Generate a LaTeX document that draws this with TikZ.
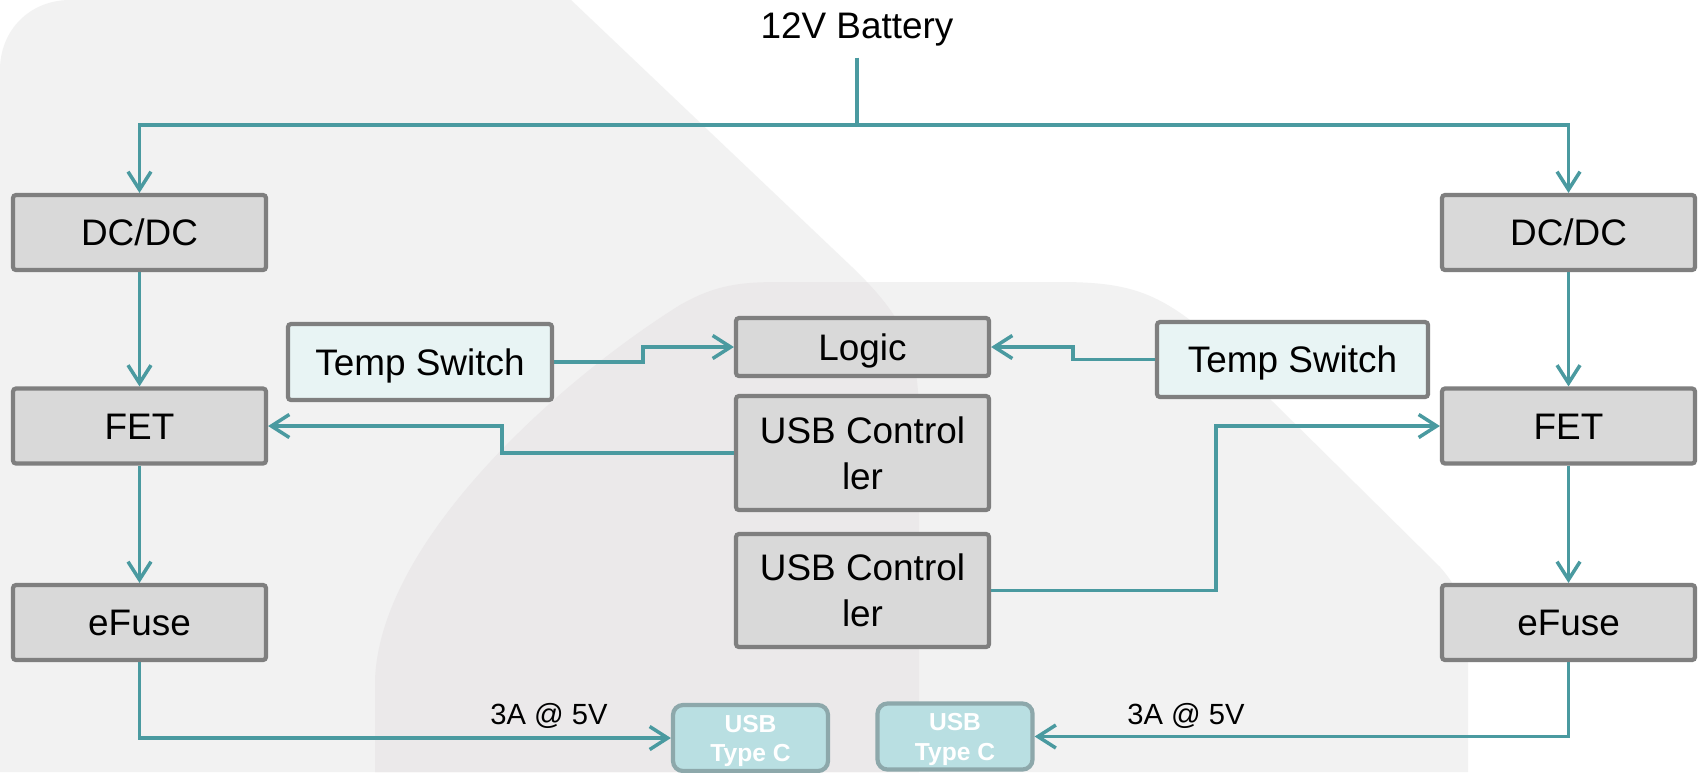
\documentclass[tikz,border=0pt]{standalone}
\usepackage{fontspec}
\setmainfont{Liberation Sans}
\usetikzlibrary{arrows.meta}

\definecolor{boxgray}{HTML}{D9D9D9}
\definecolor{edgegray}{HTML}{7F7F7F}
\definecolor{sensorfill}{HTML}{E8F4F4}
\definecolor{portfill}{HTML}{B9DFE2}
\definecolor{portedge}{HTML}{8DA8AB}
\definecolor{linkteal}{HTML}{4A9AA0}
\definecolor{bglight}{HTML}{F2F2F2}
\definecolor{bgdark}{HTML}{EBE9EA}

\begin{document}
\begin{tikzpicture}[
  x=0.1mm, y=-0.1mm,
  boxbase/.style={rectangle, draw=edgegray, fill=boxgray, line width=0.42mm, rounded corners=0.3mm,
    inner sep=0pt, minimum width=25.3mm, minimum height=7.5mm, align=center},
  block/.style={boxbase, text height=7.5pt, text depth=0pt},
  ctrl/.style={boxbase, minimum height=11.4mm},
  sensor/.style={block, fill=sensorfill},
  port/.style={rectangle, draw=portedge, fill=portfill, line width=0.42mm, rounded corners=1mm,
    inner sep=0pt, minimum width=15.5mm, minimum height=6.6mm, align=center, text=white,
    text height=13.6pt, text depth=0pt, font=\fontsize{7}{8.5}\selectfont\bfseries},
  link/.style={draw=linkteal, line width=0.35mm},
  flow/.style={link, -{Straight Barb[length=1.8mm, width=2.3mm]}},
  every node/.style={font=\fontsize{10.5}{13}\selectfont}
]
  \useasboundingbox (0,0) rectangle (1700,772);

  % background
  \fill[white] (0,0) rectangle (1700,772);
  \fill[bglight] (0,70) .. controls (0,30) and (30,0) .. (70,0) -- (571,0) -- (852,267)
    .. controls (905,318) and (919,350) .. (919,420) -- (919,772) -- (0,772) -- cycle;
  \fill[bglight] (375,772) -- (375,680) .. controls (380,540) and (560,380) .. (680,305)
    .. controls (715,285) and (740,282) .. (780,282) -- (1060,282)
    .. controls (1120,282) and (1150,290) .. (1190,320) -- (1440,567)
    .. controls (1460,590) and (1468,610) .. (1468,640) -- (1468,772) -- cycle;
  \begin{scope}
    \clip (0,70) .. controls (0,30) and (30,0) .. (70,0) -- (571,0) -- (852,267)
      .. controls (905,318) and (919,350) .. (919,420) -- (919,772) -- (0,772) -- cycle;
    \fill[bgdark] (375,772) -- (375,680) .. controls (380,540) and (560,380) .. (680,305)
      .. controls (715,285) and (740,282) .. (780,282) -- (1060,282)
      .. controls (1120,282) and (1150,290) .. (1190,320) -- (1440,567)
      .. controls (1460,590) and (1468,610) .. (1468,640) -- (1468,772) -- cycle;
  \end{scope}

  \node[inner sep=0pt, outer ysep=1.2mm] (bat) at (857,29) {12V Battery};
  \coordinate (split) at (857,125);

  \node[block] (dcL) at (139.5,232.5) {DC/DC};
  \node[block] (fetL) at (139.5,426) {FET};
  \node[block] (efL) at (139.5,622.5) {eFuse};
  \node[block] (dcR) at (1568.5,232.5) {DC/DC};
  \node[block] (fetR) at (1568.5,426) {FET};
  \node[block] (efR) at (1568.5,622.5) {eFuse};

  \node[sensor, minimum width=26.4mm, minimum height=7.6mm] (tsL) at (420,362) {Temp Switch};
  \node[sensor, minimum width=27.1mm] (tsR) at (1292.5,359.5) {Temp Switch};

  \node[block, minimum height=5.8mm] (logic) at (862.5,347) {Logic};
  \node[ctrl] (ctrlA) at (862.5,453) {USB Control\\ler};
  \node[ctrl, minimum height=11.3mm] (ctrlB) at (862.5,590.5) {USB Control\\ler};

  \node[port] (usbL) at (750.5,738) {USB\\Type C};
  \node[port] (usbR) at (955,736.5) {USB\\Type C};

  \node[font=\fontsize{8.3}{10}\selectfont] (ampL) at (549,716) {3A @ 5V};
  \node[font=\fontsize{8.3}{10}\selectfont] (ampR) at (1186,716) {3A @ 5V};

  \draw[link] (bat.south) -- (split);
  \draw[flow] (split) -| (dcL);
  \draw[flow] (split) -| (dcR);

  \draw[flow] (dcL) -- (fetL);
  \draw[flow] (fetL) -- (efL);
  \draw[flow] (dcR) -- (fetR);
  \draw[flow] (fetR) -- (efR);

  \draw[flow] (tsL.east) -- ++(89,0) |- (logic.west);
  \draw[flow] (tsR.west) -- ++(-82,0) |- (logic.east);
  \draw[flow] (ctrlA.west) -- ++(-232,0) |- (fetL.east);
  \draw[flow] (ctrlB.east) -- ++(225,0) |- (fetR.west);

  \draw[flow] (efL) |- (usbL);
  \draw[flow] (efR) |- (usbR);
\end{tikzpicture}
\end{document}
